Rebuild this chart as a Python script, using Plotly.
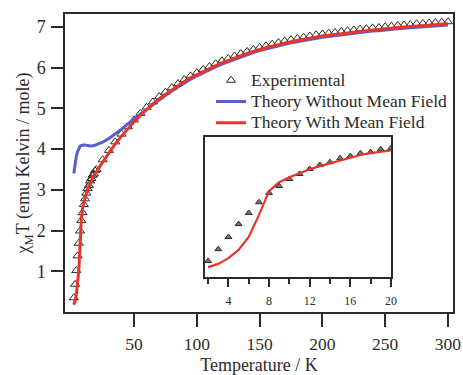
import plotly.graph_objects as go

# ---------------- data ----------------
T = [2, 3, 4, 5, 6, 7, 8, 9, 10, 11, 12, 13, 14, 15, 16, 17, 18, 19, 20,
     25, 30, 35, 40, 45, 50, 55, 60, 65, 70, 75, 80, 85, 90, 95, 100,
     105, 110, 115, 120, 125, 130, 135, 140, 145, 150, 155, 160, 165, 170,
     175, 180, 185, 190, 195, 200, 205, 210, 215, 220, 225, 230, 235, 240,
     245, 250, 255, 260, 265, 270, 275, 280, 285, 290, 295, 300]

chiT_exp = [0.35, 0.68, 1.02, 1.38, 1.69, 1.99, 2.25, 2.44, 2.64, 2.78, 2.92, 3.03, 3.11, 3.22, 3.28, 3.36, 3.39, 3.47, 3.50,
            3.74, 3.97, 4.18, 4.37, 4.55, 4.72, 4.88, 5.03, 5.16, 5.29, 5.40, 5.51, 5.61, 5.71, 5.80, 5.88,
            5.96, 6.03, 6.10, 6.17, 6.23, 6.29, 6.35, 6.40, 6.45, 6.50, 6.54, 6.58, 6.62, 6.66,
            6.69, 6.72, 6.75, 6.78, 6.81, 6.83, 6.85, 6.87, 6.89, 6.91, 6.93, 6.95, 6.96, 6.98,
            6.99, 7.01, 7.02, 7.04, 7.05, 7.06, 7.08, 7.09, 7.10, 7.11, 7.12, 7.13]

chiT_no_mf = [3.40, 3.64, 3.82, 3.94, 4.02, 4.07, 4.09, 4.10, 4.10, 4.10, 4.09, 4.09, 4.08, 4.08, 4.08, 4.08, 4.09, 4.10, 4.11,
              4.17, 4.26, 4.37, 4.49, 4.62, 4.74, 4.86, 4.97, 5.09, 5.21, 5.32, 5.43, 5.53, 5.63, 5.72, 5.80,
              5.88, 5.95, 6.02, 6.09, 6.15, 6.21, 6.27, 6.32, 6.37, 6.42, 6.46, 6.50, 6.54, 6.58,
              6.61, 6.64, 6.67, 6.70, 6.73, 6.75, 6.77, 6.79, 6.81, 6.83, 6.85, 6.87, 6.88, 6.90,
              6.91, 6.93, 6.94, 6.96, 6.97, 6.98, 7.00, 7.01, 7.02, 7.03, 7.04, 7.05]

chiT_mf = [0.18, 0.27, 0.43, 0.66, 1.02, 1.63, 2.30, 2.55, 2.69, 2.81, 2.91, 3.00, 3.08, 3.17, 3.25, 3.31, 3.36, 3.40, 3.44,
           3.68, 3.92, 4.13, 4.32, 4.50, 4.67, 4.83, 4.98, 5.11, 5.24, 5.35, 5.46, 5.56, 5.66, 5.75, 5.83,
           5.91, 5.98, 6.05, 6.12, 6.18, 6.24, 6.30, 6.35, 6.40, 6.45, 6.49, 6.53, 6.57, 6.61,
           6.64, 6.67, 6.70, 6.73, 6.76, 6.78, 6.80, 6.82, 6.84, 6.86, 6.88, 6.90, 6.91, 6.93,
           6.94, 6.96, 6.97, 6.99, 7.00, 7.01, 7.03, 7.04, 7.05, 7.06, 7.07, 7.08]

x_ticks_main = [50, 100, 150, 200, 250, 300]
y_ticks_main = [1, 2, 3, 4, 5, 6, 7]
x_ticks_inset = [4, 8, 12, 16, 20]
x_minor_inset = [2, 6, 10, 14, 18]
inset_max_T = 20
legend_names = ["Experimental", "Theory Without Mean Field", "Theory With Mean Field"]

# ---------------- styling ----------------
FONT = "Liberation Serif"
INK = "#2b2b2b"
BLUE = "#5a5fc8"
RED = "#e8352a"


def big(s):
    return "<span style='font-size:17.5px'>" + s + "</span>"


inset_T = [t for t in T if t <= inset_max_T]
n_in = len(inset_T)

fig = go.Figure()

fig.add_trace(go.Scatter(
    x=T, y=chiT_exp, mode="markers", name=big(legend_names[0]),
    marker=dict(symbol="triangle-up-open", size=8, color=INK, line=dict(width=1)),
    xaxis="x", yaxis="y"))
fig.add_trace(go.Scatter(
    x=T, y=chiT_no_mf, mode="lines", name=big(legend_names[1]),
    line=dict(color=BLUE, width=3), xaxis="x", yaxis="y"))
fig.add_trace(go.Scatter(
    x=T, y=chiT_mf, mode="lines", name=big(legend_names[2]),
    line=dict(color=RED, width=3), xaxis="x", yaxis="y"))

# inset
fig.add_trace(go.Scatter(
    x=inset_T, y=chiT_exp[:n_in], mode="markers", showlegend=False,
    marker=dict(symbol="triangle-up", size=6, color="#777777", line=dict(width=1, color=INK)),
    xaxis="x2", yaxis="y2"))
fig.add_trace(go.Scatter(
    x=inset_T, y=chiT_mf[:n_in], mode="lines", showlegend=False,
    line=dict(color=RED, width=2.2), xaxis="x2", yaxis="y2"))

fig.update_layout(
    width=463, height=375,
    margin=dict(l=65, r=10, t=14, b=63),
    paper_bgcolor="white", plot_bgcolor="white",
    font=dict(family=FONT, color=INK, size=18),
    showlegend=True,
    legend=dict(x=1.0, y=0.83, xanchor="right", yanchor="top",
                bgcolor="rgba(0,0,0,0)", font=dict(size=14, family=FONT, color=INK),
                tracegroupgap=0, itemwidth=30, borderwidth=0),
    xaxis=dict(range=[-5, 304], tickvals=x_ticks_main, ticks="outside", ticklen=13,
               tickwidth=1.5, tickcolor=INK, showline=True, linecolor=INK, linewidth=1.5,
               mirror=True, showgrid=False, zeroline=False, ticklabelstandoff=2,
               automargin=False,
               title=dict(text="Temperature / K", font=dict(size=18), standoff=16),
               tickfont=dict(size=17.5)),
    yaxis=dict(range=[0, 7.32], tickvals=y_ticks_main, ticks="outside", ticklen=12,
               tickwidth=1.5, tickcolor=INK, showline=True, linecolor=INK, linewidth=1.5,
               mirror=True, showgrid=False, zeroline=False, ticklabelstandoff=2,
               automargin=False,
               title=dict(text="χ<sub>M</sub>T (emu Kelvin / mole)", font=dict(size=18), standoff=2),
               tickfont=dict(size=18)),
    xaxis2=dict(domain=[0.361, 0.840], anchor="y2", range=[1.7, 20],
                tickvals=x_ticks_inset, ticks="outside", ticklen=8, tickwidth=1.5,
                tickcolor=INK, showline=True, linecolor=INK, linewidth=1.5, mirror=True,
                showgrid=False, zeroline=False, tickfont=dict(size=12), ticklabelstandoff=4,
                automargin=False,
                minor=dict(tickvals=x_minor_inset, ticks="outside", ticklen=5,
                           tickwidth=1.5, tickcolor=INK)),
    yaxis2=dict(domain=[0.117, 0.587], anchor="x2", range=[-0.1, 3.81],
                showticklabels=False, ticks="", showline=True, linecolor=INK,
                linewidth=1.5, mirror=True, showgrid=False, zeroline=False,
                automargin=False),
)

fig.write_html("out.html")
